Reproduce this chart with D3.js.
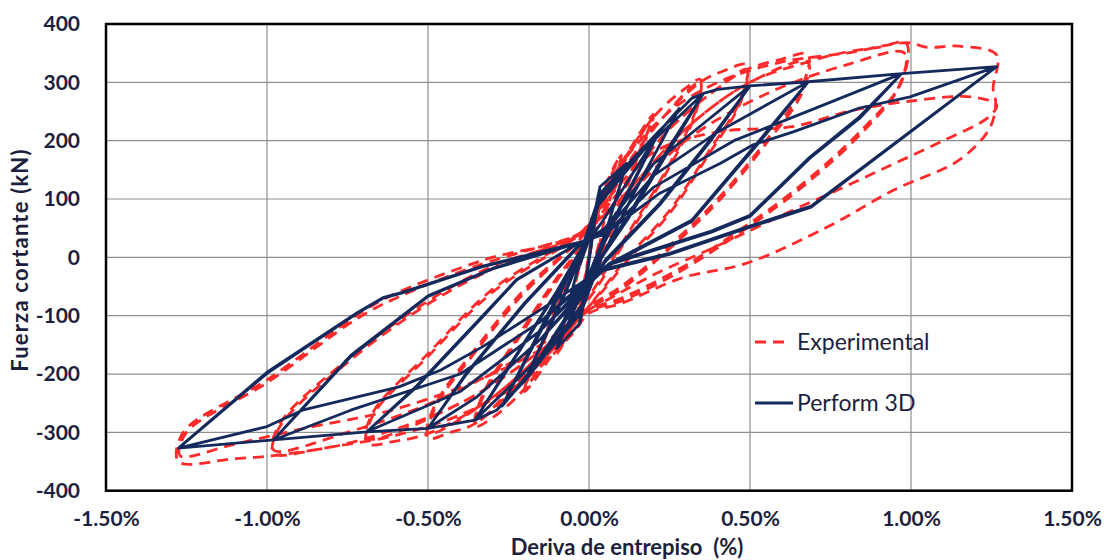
<!DOCTYPE html>
<html>
<head>
<meta charset="utf-8">
<script src="https://cdn.jsdelivr.net/npm/d3@7"></script>
<style>
  html, body { margin: 0; padding: 0; background: #ffffff; }
  svg { display: block; }
  .tick text { font-family: Lato, "Open Sans", sans-serif; font-weight: 700; font-size: 21px; fill: #1c1f3e; }
</style>
</head>
<body>
<svg id="chart" width="1107" height="560"></svg>
<script>
// Axis ticks
const driftTicks = [-1.5, -1.0, -0.5, 0, 0.5, 1.0, 1.5];
const forceTicks = [-400, -300, -200, -100, 0, 100, 200, 300, 400];

// Numerical model response (Perform 3D): [drift %, shear kN]
const perform3D = [
  [0, 0], [0.012, 48], [-0.010, -42], [0.020, 78], [-0.018, -72], [0.027, 100], [-0.024, -96],
  [0.030, 110], [-0.027, -106], [0.032, 116], [-0.029, -110], [0.034, 121], [-0.028, -113],
  [0.033, 118], [-0.030, -115], [0.034, 121],
  [0.117, 161], [0.05, 40], [0.0, -30], [-0.028, -113], [-0.10, -156], [-0.04, -30], [0.0, 30],
  [0.034, 121], [0.117, 161], [0.045, 30], [-0.005, -40], [-0.10, -156], [-0.035, -20], [0.0, 40],
  [0.04, 110], [0.22, 218], [0.09, 80], [0.02, -10], [-0.02, -80], [-0.2, -212], [-0.08, -70],
  [-0.02, 10], [0.03, 90], [0.22, 218], [0.085, 70], [0.015, -15], [-0.025, -90], [-0.2, -212],
  [-0.075, -60], [-0.015, 20],
  [0.03, 95], [0.28, 255], [0.14, 110], [0.04, 0], [-0.02, -85], [-0.27, -255], [-0.13, -100],
  [-0.03, 5], [0.025, 90], [0.28, 255], [0.13, 100], [0.035, -5], [-0.025, -95], [-0.27, -255],
  [-0.12, -95], [-0.025, 10],
  // 0.35 %
  [0.035, 110], [0.22, 218], [0.32, 273], [0.355, 281], [0.25, 190], [0.12, 70], [0.03, -5],
  [-0.01, -50], [-0.2, -212], [-0.287, -262], [-0.354, -279], [-0.25, -190], [-0.1, -60], [-0.02, 15],
  [0.04, 60], [0.2, 200], [0.355, 281], [0.25, 185], [0.12, 65], [0.03, -8], [-0.01, -55],
  [-0.15, -170], [-0.354, -279], [-0.25, -188], [-0.1, -58], [-0.02, 18],
  // 0.50 %
  [0.04, 60], [0.2, 200], [0.355, 281], [0.4, 288], [0.5, 294], [0.375, 201], [0.22, 93],
  [0.05, -5], [0, -50], [-0.15, -170], [-0.354, -279], [-0.5, -293], [-0.38, -200], [-0.2, -80],
  [-0.03, 20],
  [0.05, 50], [0.2, 160], [0.5, 294], [0.375, 198], [0.22, 90], [0.05, -8], [0, -50],
  [-0.15, -140], [-0.35, -240], [-0.5, -293], [-0.38, -198], [-0.2, -78], [-0.03, 22],
  // 0.68 %
  [0.05, 50], [0.2, 160], [0.5, 294], [0.681, 301], [0.53, 201], [0.32, 64], [0.065, -10],
  [0, -45], [-0.15, -140], [-0.35, -240], [-0.5, -293], [-0.69, -299], [-0.535, -222],
  [-0.33, -102], [-0.225, -39], [-0.03, 25],
  [0.05, 45], [0.2, 140], [0.4, 215], [0.681, 301], [0.53, 198], [0.32, 62], [0.065, -12],
  [0, -45], [-0.15, -125], [-0.4, -230], [-0.69, -299], [-0.535, -220], [-0.33, -100],
  [-0.225, -38], [-0.03, 25],
  // 0.98 %
  [0.05, 45], [0.2, 140], [0.4, 215], [0.681, 301], [0.971, 315], [0.84, 241], [0.686, 172],
  [0.5, 72], [0.38, 45], [0.065, -10], [0, -40], [-0.15, -125], [-0.4, -230], [-0.69, -299],
  [-0.98, -313], [-0.74, -170], [-0.5, -67], [-0.3, -20], [-0.03, 25],
  [0.05, 40], [0.2, 120], [0.45, 200], [0.7, 255], [0.971, 315], [0.84, 238], [0.686, 170],
  [0.5, 70], [0.38, 43], [0.065, -12], [0, -40], [-0.15, -110], [-0.4, -200], [-0.74, -262],
  [-0.98, -313], [-0.74, -168], [-0.5, -66], [-0.3, -19], [-0.03, 25],
  // 1.27 %
  [0.05, 40], [0.2, 120], [0.45, 200], [0.7, 255], [0.971, 315], [1.266, 327], [0.69, 88],
  [0.49, 52], [0.25, 7], [0.034, -22], [0, -35], [-0.15, -110], [-0.4, -200], [-0.74, -262],
  [-0.98, -313], [-1.275, -327], [-1.0, -199], [-0.72, -96], [-0.64, -70], [-0.58, -61],
  [-0.33, -16], [-0.028, 25],
  [0.065, 47], [0.22, 110], [0.407, 161], [0.51, 193], [0.634, 215], [0.84, 256], [0.997, 275],
  [1.266, 327], [0.69, 86], [0.49, 50], [0.25, 5], [0.034, -24], [0, -35], [-0.12, -79],
  [-0.33, -153], [-0.46, -193], [-0.59, -222], [-0.89, -262], [-1.0, -290], [-1.275, -327],
  [-1.0, -197], [-0.72, -95], [-0.64, -69], [-0.58, -60], [-0.33, -15], [-0.028, 26], [0, 30]
];

// Laboratory test response (Experimental): [drift %, shear kN]
const experimental = [
  [0, 0], [0.01, 40], [-0.01, -35], [0.02, 70], [-0.02, -65], [0.03, 95], [-0.03, -90],
  [0.05, 120], [0.1, 175], [0.06, 90], [0.02, 0], [-0.01, -60], [-0.05, -115], [-0.1, -165],
  [-0.06, -80], [-0.02, 5], [0.01, 60], [0.1, 175], [0.05, 70], [0.015, -20], [-0.1, -165],
  [-0.05, -60], [-0.01, 20],
  // 0.20 %
  [0.05, 110], [0.2, 245], [0.15, 170], [0.08, 60], [0.02, -30], [-0.05, -110], [-0.2, -230],
  [-0.14, -140], [-0.07, -40], [-0.01, 25], [0.05, 105], [0.2, 240], [0.14, 160], [0.06, 40],
  [0.0, -45], [-0.2, -225], [-0.13, -130], [-0.06, -30], [-0.01, 25],
  // 0.35 %
  [0.05, 110], [0.2, 240], [0.3, 290], [0.345, 305], [0.33, 250], [0.24, 150], [0.12, 40],
  [0.02, -50], [-0.08, -130], [-0.2, -225], [-0.3, -275], [-0.354, -290], [-0.33, -240],
  [-0.22, -140], [-0.1, -40], [-0.02, 20],
  [0.05, 100], [0.2, 220], [0.345, 300], [0.33, 245], [0.24, 145], [0.12, 35], [0.02, -55],
  [-0.1, -140], [-0.25, -230], [-0.354, -285], [-0.33, -235], [-0.22, -135], [-0.1, -35],
  [-0.02, 22],
  // 0.50 %
  [0.06, 100], [0.2, 220], [0.345, 300], [0.42, 320], [0.49, 330], [0.47, 270], [0.37, 180],
  [0.25, 80], [0.12, 0], [0.02, -70], [-0.1, -150], [-0.25, -235], [-0.354, -285], [-0.43, -300],
  [-0.5, -310], [-0.48, -260], [-0.35, -160], [-0.2, -60], [-0.03, 30],
  [0.06, 90], [0.25, 220], [0.4, 290], [0.49, 322], [0.47, 265], [0.37, 175], [0.25, 75],
  [0.12, -5], [0.02, -72], [-0.12, -150], [-0.3, -240], [-0.5, -302], [-0.48, -255],
  [-0.35, -155], [-0.2, -55], [-0.03, 32],
  // 0.68 %
  [0.06, 90], [0.25, 220], [0.4, 290], [0.49, 322], [0.6, 340], [0.68, 348], [0.66, 290],
  [0.55, 200], [0.4, 100], [0.25, 20], [0.1, -50], [0, -85], [-0.12, -150], [-0.3, -240],
  [-0.5, -302], [-0.6, -315], [-0.69, -319], [-0.67, -270], [-0.5, -170], [-0.3, -60],
  [-0.03, 38],
  [0.08, 90], [0.3, 220], [0.5, 300], [0.68, 335], [0.66, 280], [0.55, 195], [0.4, 95],
  [0.25, 15], [0.1, -55], [0, -88], [-0.15, -160], [-0.4, -250], [-0.69, -310], [-0.67, -265],
  [-0.5, -165], [-0.3, -55], [-0.03, 40],
  // 0.98 %
  [0.08, 90], [0.3, 220], [0.5, 300], [0.68, 335], [0.8, 352], [0.9, 360], [0.985, 367],
  [0.97, 300], [0.85, 220], [0.65, 120], [0.45, 40], [0.28, -20], [0.1, -70], [0, -90],
  [-0.15, -160], [-0.4, -250], [-0.69, -310], [-0.85, -330], [-0.98, -336], [-0.96, -290],
  [-0.75, -180], [-0.5, -80], [-0.3, -20], [-0.03, 40],
  [0.08, 85], [0.3, 200], [0.55, 280], [0.8, 330], [0.98, 350], [0.96, 290], [0.85, 215],
  [0.65, 115], [0.45, 35], [0.28, -25], [0.1, -75], [0, -92], [-0.15, -150], [-0.45, -240],
  [-0.75, -300], [-0.98, -330], [-0.96, -285], [-0.75, -175], [-0.5, -75], [-0.3, -15],
  [-0.03, 40],
  // 1.27 %
  [0.03, 90], [0.1, 160], [0.25, 250], [0.4, 300], [0.6, 335], [0.8, 350], [0.99, 368],
  [1.05, 360], [1.15, 362], [1.266, 347], [1.255, 290], [1.263, 265], [1.245, 222],
  [1.15, 167], [0.945, 115], [0.74, 52], [0.49, -10], [0.29, -35], [0.1, -79], [0, -96],
  [-0.05, -130], [-0.2, -210], [-0.4, -270], [-0.6, -305], [-0.8, -325], [-0.98, -340],
  [-1.1, -345], [-1.275, -350], [-1.26, -300], [-1.0, -210], [-0.72, -99], [-0.62, -67],
  [-0.33, -5], [-0.03, 41],
  [0.05, 95], [0.2, 180], [0.4, 215], [0.63, 224], [0.82, 252], [1.0, 268], [1.19, 275],
  [1.266, 261], [1.24, 240], [1.1, 200], [0.945, 160], [0.79, 120], [0.63, 80], [0.4, 20],
  [0.2, -30], [0.05, -75], [0, -90], [-0.1, -140], [-0.3, -200], [-0.6, -260], [-0.9, -295],
  [-1.1, -320], [-1.27, -340], [-1.25, -300], [-1.0, -215], [-0.72, -105], [-0.6, -70],
  [-0.35, -15], [-0.03, 38], [0, 45]
];

const seriesNames = ["Experimental", "Perform 3D"];
const seriesColors = ["#ff2a2a", "#142a5c"];

const svg = d3.select("#chart");
const plot = { left: 106, right: 1072, top: 24, bottom: 490.7 };

const x = d3.scaleLinear().domain([-1.5, 1.5]).range([plot.left, plot.right]);
const y = d3.scaleLinear().domain([-400, 400]).range([plot.bottom, plot.top]);

// Plain hyphen for negative numbers
const hyphen = s => s.replace("\u2212", "-");
const fmtDrift = d => hyphen(d3.format(".2f")(d)) + "%";
const fmtForce = d => hyphen(d3.format("d")(d));

svg.append("rect").attr("width", 1107).attr("height", 560).attr("fill", "#ffffff");

// Gridlines
const grid = svg.append("g").attr("stroke", "#8f8f8f").attr("stroke-width", 1.2);
grid.selectAll("line.h").data(forceTicks.slice(1, -1)).join("line")
  .attr("x1", plot.left).attr("x2", plot.right)
  .attr("y1", d => y(d)).attr("y2", d => y(d));
grid.selectAll("line.v").data(driftTicks.slice(1, -1)).join("line")
  .attr("y1", plot.top).attr("y2", plot.bottom)
  .attr("x1", d => x(d)).attr("x2", d => x(d));

// Series
svg.append("clipPath").attr("id", "clip").append("rect")
  .attr("x", plot.left).attr("y", plot.top)
  .attr("width", plot.right - plot.left).attr("height", plot.bottom - plot.top);

const lineRed = d3.line().x(d => x(d[0])).y(d => y(d[1])).curve(d3.curveCatmullRom.alpha(0.5));
const lineNavy = d3.line().x(d => x(d[0])).y(d => y(d[1])).curve(d3.curveLinear);

const series = svg.append("g").attr("clip-path", "url(#clip)");
series.append("path").datum(experimental)
  .attr("d", lineRed).attr("fill", "none")
  .attr("stroke", seriesColors[0]).attr("stroke-width", 2.8)
  .attr("stroke-dasharray", "11,7").attr("stroke-linejoin", "round");
series.append("path").datum(perform3D)
  .attr("d", lineNavy).attr("fill", "none")
  .attr("stroke", seriesColors[1]).attr("stroke-width", 2.8)
  .attr("stroke-linejoin", "round").attr("stroke-linecap", "round");

// Plot border
svg.append("rect")
  .attr("x", plot.left).attr("y", plot.top)
  .attr("width", plot.right - plot.left).attr("height", plot.bottom - plot.top)
  .attr("fill", "none").attr("stroke", "#000000").attr("stroke-width", 2.5);

// Axes
const xAxis = d3.axisBottom(x).tickValues(driftTicks)
  .tickFormat(fmtDrift).tickSize(0).tickPadding(20);
const gx = svg.append("g").attr("transform", `translate(0,${plot.bottom})`).call(xAxis);
gx.select(".domain").remove();

const yAxis = d3.axisLeft(y).tickValues(forceTicks).tickFormat(fmtForce).tickSize(0).tickPadding(26);
const gy = svg.append("g").attr("transform", `translate(${plot.left},0)`).call(yAxis);
gy.select(".domain").remove();

// Axis titles
svg.append("text")
  .attr("x", 627).attr("y", 555)
  .attr("text-anchor", "middle")
  .attr("font-family", "Lato, 'Open Sans', sans-serif").attr("font-weight", 700)
  .attr("font-size", 22).attr("fill", "#1c1f3e")
  .attr("xml:space", "preserve")
  .text("Deriva de entrepiso  (%)");

svg.append("text")
  .attr("transform", "translate(28,260) rotate(-90)")
  .attr("text-anchor", "middle")
  .attr("font-family", "Lato, 'Open Sans', sans-serif").attr("font-weight", 700)
  .attr("font-size", 22).attr("letter-spacing", 1.2).attr("fill", "#1c1f3e")
  .text("Fuerza cortante (kN)");

// Legend
const legend = svg.append("g");
const legendRows = [
  { name: seriesNames[0], color: seriesColors[0], dash: "11,7", y: 342, x2: 785 },
  { name: seriesNames[1], color: seriesColors[1], dash: null, y: 403, x2: 793 }
];
legendRows.forEach(r => {
  legend.append("line")
    .attr("x1", 755).attr("x2", r.x2).attr("y1", r.y).attr("y2", r.y)
    .attr("stroke", r.color).attr("stroke-width", 2.8)
    .attr("stroke-dasharray", r.dash);
  legend.append("text")
    .attr("x", 797).attr("y", r.y + 7.5)
    .attr("font-family", "Lato, 'Open Sans', sans-serif")
    .attr("font-size", 23).attr("fill", "#1c1f3e")
    .text(r.name);
});
</script>
</body>
</html>
